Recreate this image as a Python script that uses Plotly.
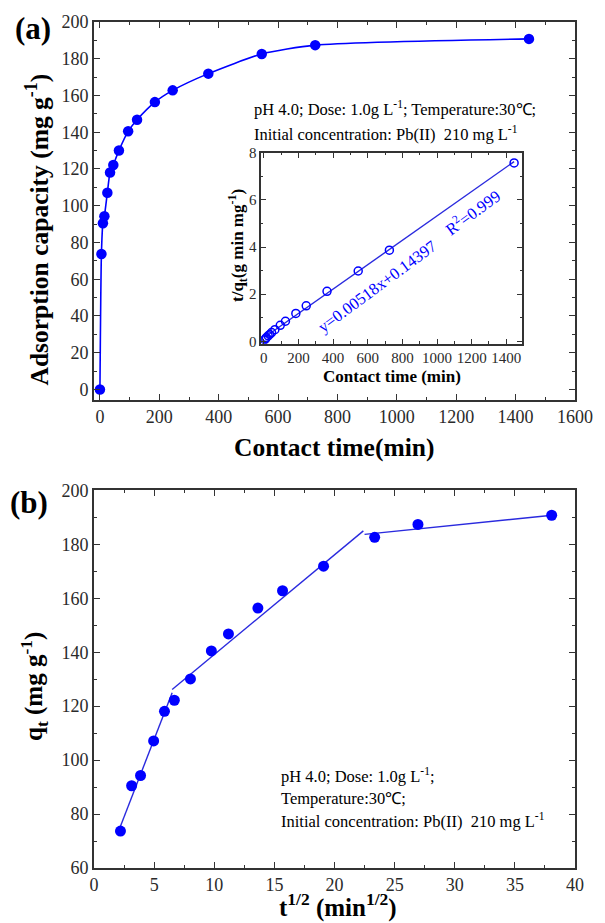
import plotly.graph_objects as go

# Contact time (min) and Pb(II) uptake q_t (mg/g)
contact_time = [0, 5, 10, 15, 25, 34, 45, 64, 95, 125, 185, 245, 365, 545, 725, 1445]
uptake = [0, 73.7, 90.5, 94.3, 107.1, 118.1, 122.2, 130.1, 140.5, 146.8, 156.4, 162.8, 171.9, 182.6, 187.4, 190.8]

# Pseudo-second-order linear fit: t/q = slope * t + intercept
pso_slope = 0.00518
pso_intercept = 0.14397
pso_line_t = [5, 1445]

# Intra-particle diffusion: sqrt(t) values and three linear stages
sqrt_time = [2.2, 3.13, 3.87, 4.96, 5.86, 6.68, 8.02, 9.76, 11.18, 13.63, 15.68, 19.09, 23.34, 26.94, 38.06]
uptake_b = uptake[1:]
stage_x = [[2.2, 6.5], [6.5, 22.4], [22.5, 38.1]]
stage_y = [[75.5, 125.0], [126.2, 185.0], [183.7, 190.8]]

FONT = "Liberation Serif, Times New Roman, serif"
BLUE = "#0000ff"
LINE_BLUE = "#2a2ade"
AX = "#333333"

inset_t = contact_time[1:]
inset_ratio = [t / q for t, q in zip(contact_time[1:], uptake[1:])]
fit_y = [pso_slope * t + pso_intercept for t in pso_line_t]

fig = go.Figure()

# (a) kinetics curve
fig.add_trace(go.Scatter(x=contact_time, y=uptake, mode="lines+markers",
                         line=dict(color=BLUE, width=1.6, shape="spline", smoothing=0.6),
                         marker=dict(color=BLUE, size=10.5),
                         xaxis="x", yaxis="y", showlegend=False))

# inset: linearised PSO plot
fig.add_trace(go.Scatter(x=pso_line_t, y=fit_y, mode="lines",
                         line=dict(color=LINE_BLUE, width=1.4),
                         xaxis="x2", yaxis="y2", showlegend=False))
fig.add_trace(go.Scatter(x=inset_t, y=inset_ratio, mode="markers",
                         marker=dict(color="rgba(0,0,0,0)", size=8,
                                     line=dict(color=BLUE, width=1.5)),
                         xaxis="x2", yaxis="y2", showlegend=False))

# (b) intra-particle diffusion
for sx, sy in zip(stage_x, stage_y):
    fig.add_trace(go.Scatter(x=sx, y=sy, mode="lines",
                             line=dict(color=LINE_BLUE, width=1.4),
                             xaxis="x3", yaxis="y3", showlegend=False))
fig.add_trace(go.Scatter(x=sqrt_time, y=uptake_b, mode="markers",
                         marker=dict(color=BLUE, size=11),
                         xaxis="x3", yaxis="y3", showlegend=False))


def axis(rng, dtick, minor, domain, anchor, size=18, ticklen=6):
    return dict(range=rng, dtick=dtick, domain=domain, anchor=anchor,
                showline=True, linecolor=AX, linewidth=1.6, mirror="ticks",
                ticks="inside", ticklen=ticklen, tickwidth=1.3, tickcolor=AX,
                minor=dict(dtick=minor, ticks="inside", ticklen=ticklen / 2,
                           tickwidth=1.2, tickcolor=AX),
                showgrid=False, zeroline=False,
                tickfont=dict(family=FONT, size=size, color="#2a2a2a"))


fig.update_layout(
    width=605, height=923,
    margin=dict(l=94, r=22, t=21, b=55),
    paper_bgcolor="white", plot_bgcolor="white",
    xaxis=axis([-20, 1600], 200, 100, [0, 1], "y"),
    yaxis=axis([-5.5, 200], 20, 10, [0.5537, 1.0], "x"),
    xaxis2=axis([-15, 1490], 200, 100, [0.3476, 0.8896], "y2", size=15, ticklen=5),
    yaxis2=axis([-0.1, 8], 2, 1, [0.6198, 0.8453], "x2", size=15, ticklen=5),
    xaxis3=axis([0, 40], 5, 2.5, [0, 1], "y3"),
    yaxis3=axis([60, 200], 20, 10, [0, 0.4463], "x3"),
)


def note(text, x, y, size, bold=False, angle=0, color="black", xanchor="center"):
    fig.add_annotation(text=f"<b>{text}</b>" if bold else text, x=x, y=y,
                       xref="paper", yref="paper", showarrow=False,
                       xanchor=xanchor, yanchor="middle", textangle=angle,
                       font=dict(family=FONT, size=size, color=color))


# panel labels
note("(a)", -0.127, 0.992, 31, bold=True)
note("(b)", -0.135, 0.4325, 31, bold=True)

# (a) axis titles
note("Adsorption capacity (mg g<sup>-1</sup>)", -0.118, 0.755, 25.5, bold=True, angle=-90)
note("Contact time(min)", 0.499, 0.497, 25.5, bold=True)

# (a) experimental conditions
note("pH 4.0; Dose: 1.0g L<sup>-1</sup>; Temperature:30℃;", 0.329, 0.8973, 16.5, xanchor="left")
note("Initial concentration: Pb(II)  210 mg L<sup>-1</sup>", 0.329, 0.8678, 16.5, xanchor="left")

# inset titles and fit equation
note("Contact time (min)", 0.619, 0.5815, 17, bold=True)
note("t/q<sub>t</sub>(g min mg<sup>-1</sup>)", 0.2986, 0.736, 17, bold=True, angle=-90)
note("y=0.00518x+0.14397", 0.5884, 0.6874, 16.5, angle=-36.5, color=BLUE)
note("R<sup>2</sup>=0.999", 0.7859, 0.7749, 16.5, angle=-36.5, color=BLUE)

# (b) axis titles
note("q<sub>t</sub> (mg g<sup>-1</sup>)", -0.125, 0.215, 25, bold=True, angle=-90)
note("t<sup>1/2</sup> (min<sup>1/2</sup>)", 0.507, -0.0445, 25, bold=True)

# (b) experimental conditions
note("pH 4.0; Dose: 1.0g L<sup>-1</sup>;", 0.3838, 0.1098, 16.5, xanchor="left")
note("Temperature:30℃;", 0.3838, 0.0825, 16.5, xanchor="left")
note("Initial concentration: Pb(II)  210 mg L<sup>-1</sup>", 0.3838, 0.0567, 16.5, xanchor="left")

fig.write_html("out.html")
